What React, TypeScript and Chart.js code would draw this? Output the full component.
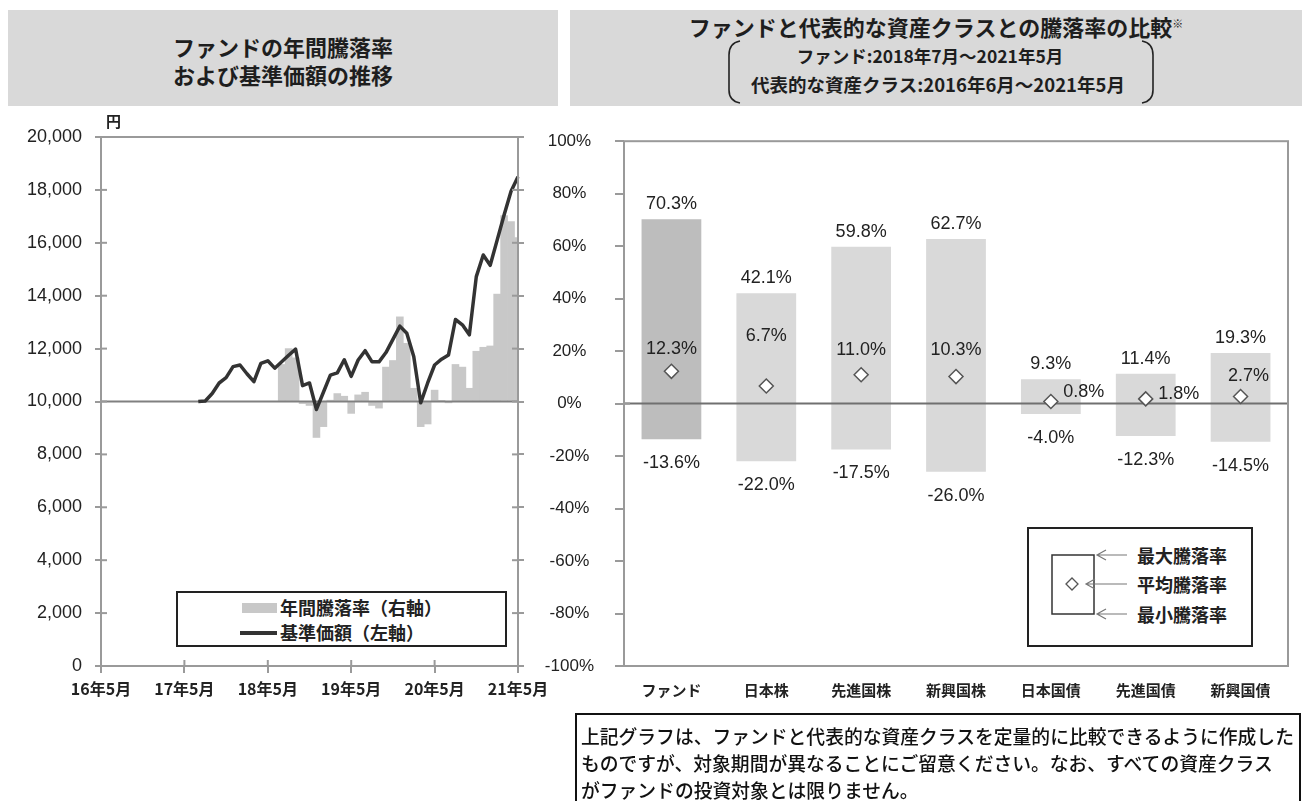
import React, { useEffect, useRef } from "react";
import { Chart, registerables } from "chart.js";
Chart.register(...registerables);

// ---------- Left chart data ----------
const monthLabels: string[] = [
  "16年5月", "16年6月", "16年7月", "16年8月", "16年9月", "16年10月", "16年11月", "16年12月",
  "17年1月", "17年2月", "17年3月", "17年4月", "17年5月", "17年6月", "17年7月", "17年8月",
  "17年9月", "17年10月", "17年11月", "17年12月",
  "18年1月", "18年2月", "18年3月", "18年4月", "18年5月", "18年6月", "18年7月", "18年8月",
  "18年9月", "18年10月", "18年11月", "18年12月",
  "19年1月", "19年2月", "19年3月", "19年4月", "19年5月", "19年6月", "19年7月", "19年8月",
  "19年9月", "19年10月", "19年11月", "19年12月",
  "20年1月", "20年2月", "20年3月", "20年4月", "20年5月", "20年6月", "20年7月", "20年8月",
  "20年9月", "20年10月", "20年11月", "20年12月",
  "21年1月", "21年2月", "21年3月", "21年4月", "21年5月",
];

// 基準価額 (円), left axis
const navValues: (number | null)[] = [
  null, null, null, null, null, null, null, null,
  null, null, null, null, null, null, 10000, 10020,
  10300, 10700, 10900, 11320,
  11380, 11050, 10750, 11440, 11540, 11260, 11500, 11750,
  11980, 10600, 10700, 9700,
  10350, 11000, 11080, 11580, 10950, 11570, 11920, 11500,
  11500, 11850, 12350, 12850,
  12580, 11700, 9950, 10700, 11380, 11600, 11760, 13100,
  12900, 12520, 14720, 15540,
  15150, 16100, 17050, 17950, 18500,
];

// 年間騰落率 (%), right axis
const annualReturns: (number | null)[] = [
  null, null, null, null, null, null, null, null,
  null, null, null, null, null, null, null, null,
  null, null, null, null,
  null, null, null, null, null, null, 14, 20,
  16.5, -0.8, -1.5, -13.6,
  -9.5, 0.5, 3, 2, -4.5, 2.5, 3.5, -1.5,
  -2.5, 13, 15.5, 32,
  22, 5, -9.5, -8.5, 4.3, 0.3, -0.5, 14,
  13, 5, 19, 20.5,
  21, 40.6, 70.3, 68, 62,
];

// ---------- Right chart data ----------
const assetClasses: string[] = ["ファンド", "日本株", "先進国株", "新興国株", "日本国債", "先進国債", "新興国債"];
const maxReturns: number[] = [70.3, 42.1, 59.8, 62.7, 9.3, 11.4, 19.3];
const avgReturns: number[] = [12.3, 6.7, 11.0, 10.3, 0.8, 1.8, 2.7];
const minReturns: number[] = [-13.6, -22.0, -17.5, -26.0, -4.0, -12.3, -14.5];

// label placement for average labels (dx, dy from the diamond)
const avgLabelPlacement: [number, number][] = [
  [0, -22], [0, -50], [0, -25], [0, -27], [33, -9], [33, -5], [8, -20],
];

const NUM_FONT = '"Liberation Sans", Arial, sans-serif';
const JP_FONT = '"Noto Sans CJK JP", "Noto Sans", sans-serif';
const AXIS_GRAY = "#9a9a9a";

function fmt(v: number) {
  return v.toFixed(1) + "%";
}

function line(ctx: CanvasRenderingContext2D, x1: number, y1: number, x2: number, y2: number) {
  ctx.beginPath();
  ctx.moveTo(x1, y1);
  ctx.lineTo(x2, y2);
  ctx.stroke();
}

const leftPlugin = {
  id: "leftDecor",
  afterDatasetDraw(chart: any, args: any) {
    if (args.meta.type !== "bar") return;
    const { ctx, chartArea: a, scales } = chart;
    const y = scales.y.getPixelForValue(10000);
    ctx.save();
    ctx.strokeStyle = "#808080";
    ctx.lineWidth = 2;
    line(ctx, a.left, y, a.right, y);
    ctx.restore();
  },
  afterDraw(chart: any) {
    const { ctx, chartArea: a, scales } = chart;
    ctx.save();
    ctx.strokeStyle = AXIS_GRAY;
    ctx.lineWidth = 2;
    ctx.strokeRect(a.left, a.top, a.right - a.left, a.bottom - a.top);
    scales.y.ticks.forEach((_t: any, i: number) => {
      const y = scales.y.getPixelForTick(i);
      line(ctx, a.left, y, a.left + 6, y);
      line(ctx, a.right - 6, y, a.right, y);
    });
    scales.x.ticks.forEach((_t: any, i: number) => {
      if (i % 12 !== 0) return;
      const x = scales.x.getPixelForTick(i);
      line(ctx, x, a.bottom - 6, x, a.bottom);
    });
    ctx.restore();
  },
};

const rightPlugin = {
  id: "rightDecor",
  afterDatasetDraw(chart: any, args: any) {
    if (args.meta.type !== "bar") return;
    const { ctx, chartArea: a, scales } = chart;
    const y = scales.y.getPixelForValue(0);
    ctx.save();
    ctx.strokeStyle = "#707070";
    ctx.lineWidth = 2;
    line(ctx, a.left, y, a.right, y);
    ctx.restore();
  },
  afterDraw(chart: any) {
    const { ctx, chartArea: a, scales } = chart;
    ctx.save();
    ctx.strokeStyle = AXIS_GRAY;
    ctx.lineWidth = 2;
    ctx.strokeRect(a.left, a.top, a.right - a.left, a.bottom - a.top);
    const y0 = scales.y.getPixelForValue(0);
    line(ctx, a.left, y0, a.left + 6, y0);

    ctx.fillStyle = "#222";
    ctx.font = `18px ${NUM_FONT}`;
    ctx.textAlign = "center";
    ctx.textBaseline = "middle";
    assetClasses.forEach((_c, i) => {
      const x = scales.x.getPixelForValue(i);
      const yMax = scales.y.getPixelForValue(maxReturns[i]);
      const yMin = scales.y.getPixelForValue(minReturns[i]);
      const yAvg = scales.y.getPixelForValue(avgReturns[i]);
      ctx.fillText(fmt(maxReturns[i]), x, yMax - 15);
      ctx.fillText(fmt(minReturns[i]), x, yMin + 24);
      const [dx, dy] = avgLabelPlacement[i];
      ctx.fillText(fmt(avgReturns[i]), x + dx, yAvg + dy);
    });
    ctx.restore();
  },
};

function makeLeftConfig(): any {
  return {
    type: "bar",
    data: {
      labels: monthLabels,
      datasets: [
        {
          type: "line",
          label: "基準価額(左軸)",
          data: navValues,
          yAxisID: "y",
          borderColor: "#333333",
          borderWidth: 3.5,
          borderJoinStyle: "round",
          pointRadius: 0,
          tension: 0,
          order: 0,
        },
        {
          type: "bar",
          label: "年間騰落率(右軸)",
          data: annualReturns,
          yAxisID: "y1",
          backgroundColor: "#c8c8c8",
          barPercentage: 1,
          categoryPercentage: 1,
          order: 1,
        },
      ],
    },
    options: {
      animation: false,
      responsive: false,
      devicePixelRatio: 1,
      layout: { padding: { top: 27, left: 0, right: 0, bottom: 0 } },
      plugins: { legend: { display: false }, tooltip: { enabled: false } },
      scales: {
        x: {
          type: "category",
          offset: false,
          grid: {
            offset: false,
            drawOnChartArea: false,
            tickLength: 7,
            lineWidth: 2,
            color: (c: any) => (c.index % 12 === 0 ? AXIS_GRAY : "rgba(0,0,0,0)"),
          },
          border: { display: false },
          ticks: {
            autoSkip: false,
            maxRotation: 0,
            minRotation: 0,
            padding: 6,
            color: "#222",
            font: { family: JP_FONT, size: 16, weight: "bold" },
            callback: (_v: any, i: number) => (i % 12 === 0 ? monthLabels[i] : ""),
          },
          afterFit: (s: any) => {
            s.height = 44;
          },
        },
        y: {
          position: "left",
          min: 0,
          max: 20000,
          ticks: {
            stepSize: 2000,
            padding: 13,
            color: "#222",
            font: { family: NUM_FONT, size: 18 },
            callback: (v: any) => Number(v).toLocaleString("en-US"),
          },
          grid: { drawOnChartArea: false, tickLength: 6, color: AXIS_GRAY, lineWidth: 2 },
          border: { display: false },
          afterFit: (s: any) => {
            s.width = 101;
          },
        },
        y1: {
          position: "right",
          min: -100,
          max: 100,
          ticks: { stepSize: 20, display: false },
          grid: { drawOnChartArea: false, tickLength: 6, color: AXIS_GRAY, lineWidth: 2 },
          border: { display: false },
          afterFit: (s: any) => {
            s.width = 42;
          },
        },
      },
    },
    plugins: [leftPlugin],
  };
}

function makeRightConfig(): any {
  return {
    type: "bar",
    data: {
      labels: assetClasses,
      datasets: [
        {
          type: "line",
          label: "平均騰落率",
          data: avgReturns,
          showLine: false,
          pointStyle: "rectRot",
          pointRadius: 7,
          pointBackgroundColor: "#ffffff",
          pointBorderColor: "#555555",
          pointBorderWidth: 1.5,
          order: 0,
        },
        {
          type: "bar",
          label: "騰落率レンジ",
          data: assetClasses.map((_c, i) => [minReturns[i], maxReturns[i]]),
          backgroundColor: assetClasses.map((_c, i) => (i === 0 ? "#bdbdbd" : "#d9d9d9")),
          barPercentage: 0.63,
          categoryPercentage: 1,
          order: 1,
        },
      ],
    },
    options: {
      animation: false,
      responsive: false,
      devicePixelRatio: 1,
      layout: { padding: { top: 27, left: 0, right: 14, bottom: 0 } },
      plugins: { legend: { display: false }, tooltip: { enabled: false } },
      scales: {
        x: {
          type: "category",
          offset: true,
          grid: { display: false, drawTicks: false },
          border: { display: false },
          ticks: {
            padding: 15,
            color: "#222",
            font: { family: JP_FONT, size: 15, weight: "bold" },
          },
          afterFit: (s: any) => {
            s.height = 44;
          },
        },
        y: {
          position: "left",
          min: -100,
          max: 100,
          ticks: {
            stepSize: 20,
            crossAlign: "center",
            padding: 21,
            color: "#222",
            font: { family: NUM_FONT, size: 17 },
            callback: (v: any) => `${v}%`,
          },
          grid: { drawOnChartArea: false, tickLength: 9, color: AXIS_GRAY, lineWidth: 2 },
          border: { display: false },
          afterFit: (s: any) => {
            s.width = 84;
          },
        },
      },
    },
    plugins: [rightPlugin],
  };
}

export default function App() {
  const leftRef = useRef<HTMLCanvasElement>(null);
  const rightRef = useRef<HTMLCanvasElement>(null);

  useEffect(() => {
    const c1 = new Chart(leftRef.current as HTMLCanvasElement, makeLeftConfig());
    const c2 = new Chart(rightRef.current as HTMLCanvasElement, makeRightConfig());
    return () => {
      c1.destroy();
      c2.destroy();
    };
  }, []);

  const headerBox: React.CSSProperties = {
    position: "absolute",
    top: 10,
    height: 96,
    background: "#d9d9d9",
    fontWeight: 700,
    color: "#1e1e1e",
  };

  return (
    <div
      style={{
        position: "absolute",
        left: 0,
        top: 0,
        width: 1302,
        height: 801,
        overflow: "hidden",
        background: "#ffffff",
        fontFamily: JP_FONT,
        color: "#222",
      }}
    >
      {/* Left header */}
      <div style={{ ...headerBox, left: 8, width: 550 }}>
        <div
          style={{
            position: "absolute",
            top: 22,
            left: 0,
            width: "100%",
            textAlign: "center",
            fontSize: 22,
            lineHeight: "28px",
          }}
        >
          ファンドの年間騰落率
          <br />
          および基準価額の推移
        </div>
      </div>

      {/* Right header */}
      <div style={{ ...headerBox, left: 570, width: 732 }}>
        <div
          style={{
            position: "absolute",
            top: 2,
            left: 0,
            width: "100%",
            textAlign: "center",
            fontSize: 22,
            lineHeight: "28px",
          }}
        >
          ファンドと代表的な資産クラスとの騰落率の比較
          <span style={{ fontSize: 11, verticalAlign: "super", lineHeight: "0" }}>※</span>
        </div>
        <div
          style={{
            position: "absolute",
            top: 33,
            left: -6,
            width: "100%",
            textAlign: "center",
            fontSize: 17.5,
            lineHeight: "26px",
          }}
        >
          ファンド:2018年7月～2021年5月
        </div>
        <div
          style={{
            position: "absolute",
            top: 61,
            left: 2,
            width: "100%",
            textAlign: "center",
            fontSize: 18.5,
            lineHeight: "26px",
          }}
        >
          代表的な資産クラス:2016年6月～2021年5月
        </div>
        <svg
          width={732}
          height={96}
          style={{ position: "absolute", left: 0, top: 0 }}
        >
          <path d="M 170 31 Q 159 33 159 45 L 159 80 Q 159 91 170 93" stroke="#222" strokeWidth={1.6} fill="none" />
          <path d="M 572 31 Q 583 33 583 45 L 583 80 Q 583 91 572 93" stroke="#222" strokeWidth={1.6} fill="none" />
        </svg>
      </div>

      {/* Left chart */}
      <canvas
        ref={leftRef}
        width={560}
        height={600}
        style={{ position: "absolute", left: 0, top: 110, width: 560, height: 600 }}
      />
      <div style={{ position: "absolute", left: 106, top: 112, fontSize: 15, fontWeight: 700, lineHeight: "18px" }}>円</div>

      {/* Left legend */}
      <div
        style={{
          position: "absolute",
          left: 176,
          top: 591,
          width: 327,
          height: 52,
          border: "2px solid #222",
          background: "#fff",
          fontSize: 18,
          fontWeight: 700,
        }}
      >
        <div style={{ position: "absolute", left: 64, top: 10, width: 35, height: 10, background: "#c8c8c8" }} />
        <div style={{ position: "absolute", left: 102, top: 1, lineHeight: "26px", whiteSpace: "nowrap" }}>年間騰落率（右軸）</div>
        <div style={{ position: "absolute", left: 62, top: 38, width: 37, height: 4, background: "#333" }} />
        <div style={{ position: "absolute", left: 102, top: 26, lineHeight: "26px", whiteSpace: "nowrap" }}>基準価額（左軸）</div>
      </div>

      {/* Right chart */}
      <canvas
        ref={rightRef}
        width={762}
        height={600}
        style={{ position: "absolute", left: 540, top: 110, width: 762, height: 600 }}
      />

      {/* Right legend */}
      <svg width={228} height={122} style={{ position: "absolute", left: 1026, top: 526 }}>
        <rect x={2} y={2} width={224} height={118} fill="#fff" stroke="#222" strokeWidth={2} />
        <rect x={26} y={29} width={42} height={59} fill="none" stroke="#333" strokeWidth={1.5} />
        <path d="M 40 58 L 46 52 L 52 58 L 46 64 Z" fill="#fff" stroke="#555" strokeWidth={1.3} />
        <g stroke="#777" strokeWidth={1.2} fill="none">
          <path d="M 71 29 L 101 29 M 80 24 L 71 29 L 80 34" />
          <path d="M 60 58 L 101 58 M 69 53 L 60 58 L 69 63" />
          <path d="M 71 88 L 101 88 M 80 83 L 71 88 L 80 93" />
        </g>
        <g fontFamily={JP_FONT} fontSize={18} fontWeight={700} fill="#222" dominantBaseline="central">
          <text x={111} y={29}>最大騰落率</text>
          <text x={111} y={58}>平均騰落率</text>
          <text x={111} y={88}>最小騰落率</text>
        </g>
      </svg>

      {/* Note */}
      <div
        style={{
          position: "absolute",
          left: 575,
          top: 713,
          width: 718,
          height: 92,
          border: "2px solid #111",
          boxSizing: "content-box",
          fontSize: 18.8,
          lineHeight: "27px",
          paddingLeft: 4,
          paddingTop: 7,
          whiteSpace: "nowrap",
          color: "#111",
          fontWeight: 500,
        }}
      >
        上記グラフは、ファンドと代表的な資産クラスを定量的に比較できるように作成した
        <br />
        ものですが、対象期間が異なることにご留意ください。なお、すべての資産クラス
        <br />
        がファンドの投資対象とは限りません。
      </div>
    </div>
  );
}
